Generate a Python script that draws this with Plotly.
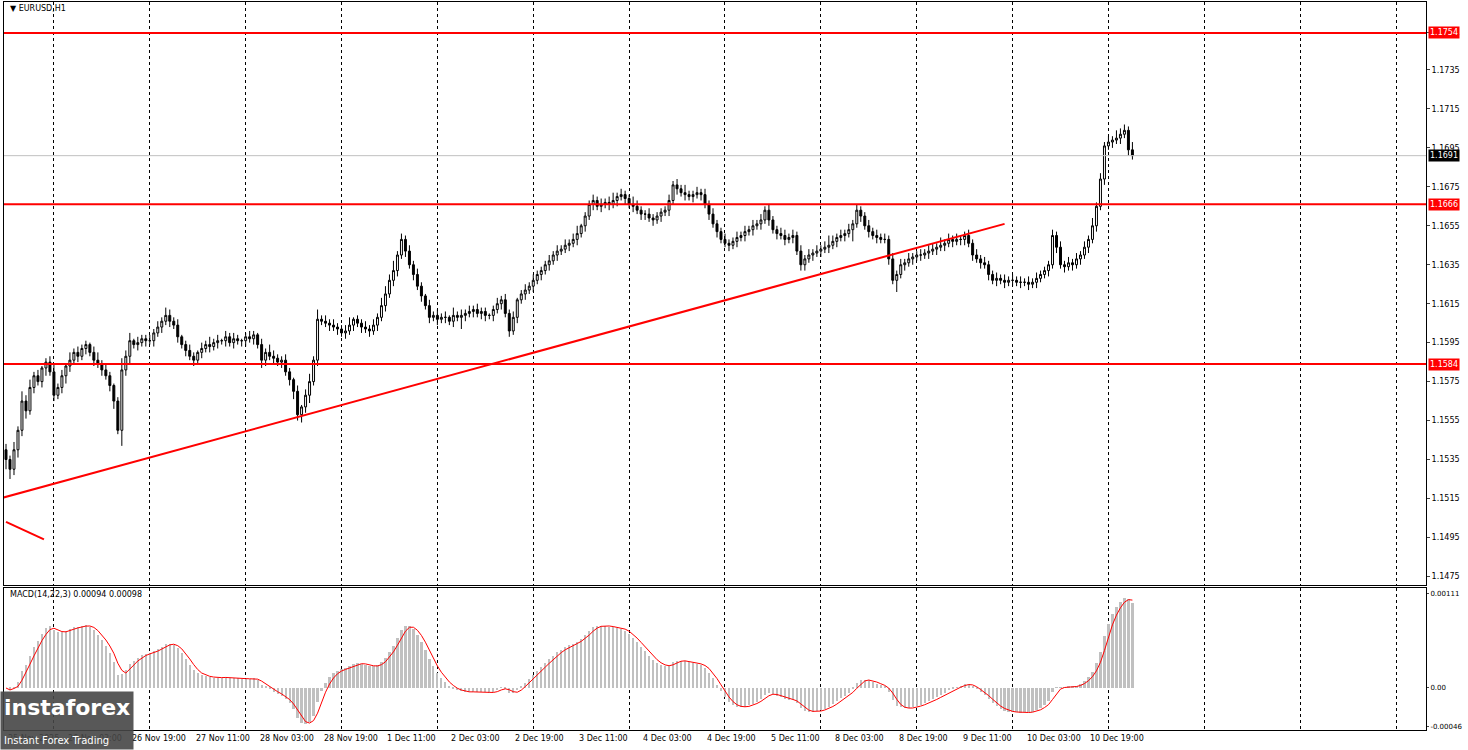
import plotly.graph_objects as go
import numpy as np

# closes in pips above 1.1400, one per H1 bar
closes = [
    135,130,140,150,165,160,172,178,175,182,185,180,168,172,178,183,186,190,188,192,
    194,190,186,184,181,178,173,165,150,181,188,196,194,195,197,196,196,200,203,206,
    209,206,204,198,194,191,188,186,190,192,194,193,195,196,196,198,195,197,196,196,
    198,197,199,194,186,190,188,187,185,186,180,176,170,158,162,168,175,186,207,206,
    205,204,203,202,200,201,204,207,205,203,202,201,204,208,214,220,227,232,240,248,
    242,235,230,224,219,214,208,209,207,208,208,206,209,208,209,210,211,212,210,211,
    209,209,212,215,217,210,201,208,217,220,222,224,227,230,232,235,237,240,242,243,
    245,246,248,251,255,260,266,268,265,266,267,266,268,270,271,269,266,265,263,261,
    261,259,258,260,262,263,268,276,274,272,271,270,271,272,271,266,261,256,252,248,
    246,245,247,249,250,252,253,255,256,258,263,258,253,251,250,248,249,250,242,235,
    238,240,241,242,243,244,245,247,249,250,251,253,256,263,260,255,252,250,249,248,
    248,238,227,230,235,236,238,239,240,240,241,242,243,244,245,246,248,247,248,248,
    250,246,240,238,236,235,230,227,228,227,226,227,227,226,226,226,225,226,228,230,
    232,235,250,244,235,234,236,235,238,240,244,248,255,265,279,296,298,299,300,302,
    304,294,291,
]
upper_wick = (
    "32425342312342314232" "21342321263413223232" "43231232132423132321"
    "23213243223213134252" "32322341223232443523" "23232132323142323232"
    "21232323123232223232" "32341223232342322432" "23222232324223232322"
    "32232323232322332323" "23232353232323223232" "32323232232332423232"
    "23232322323232323232" "22323232323242323243" "324"
)
lower_wick = (
    "55343423234232343232" "32323234283423232323" "23232323232323232323"
    "32324323232343434232" "23232323232323232332" "32323232323232632323"
    "32323232323232323232" "23232323232323232323" "32323232323232323232"
    "23232323232323232323" "32323232323262323232" "23262323232323232323"
    "32323232323232323232" "23232323232323232323" "232"
)
first_open = 140

levels = [1.1754, 1.1666, 1.1584]
last_price = 1.1691
trend_bars = [-1.5, 250]
trend_prices = [1.1515, 1.1656]
trend2_bars = [0, 9.5]
trend2_prices = [1.1503, 1.1494]

price_ticks = [1.1754, 1.1735, 1.1715, 1.1695, 1.1675, 1.1655, 1.1635, 1.1615,
               1.1595, 1.1575, 1.1555, 1.1535, 1.1515, 1.1495, 1.1475]
time_bars = [0, 15, 31, 47, 63, 79, 95, 111, 127, 143, 159, 175, 191, 207, 223, 239, 255, 271]
time_labels = ["25 Nov 2025", "26 Nov 03:00", "26 Nov 19:00", "27 Nov 11:00", "28 Nov 03:00",
               "28 Nov 19:00", "1 Dec 11:00", "2 Dec 03:00", "2 Dec 19:00", "3 Dec 11:00",
               "4 Dec 03:00", "4 Dec 19:00", "5 Dec 11:00", "8 Dec 03:00", "8 Dec 19:00",
               "9 Dec 11:00", "10 Dec 03:00", "10 Dec 19:00"]
grid_bars = [12 + 24 * k for k in range(15)]

n = len(closes)
c = 1.14 + np.array(closes) / 10000
o = np.concatenate([[1.14 + first_open / 10000], c[:-1]])
uw = np.array([int(ch) for ch in upper_wick.ljust(n, "2")[:n]]) / 10000
lw = np.array([int(ch) for ch in lower_wick.ljust(n, "2")[:n]]) / 10000
h = np.maximum(o, c) + uw
l = np.minimum(o, c) - lw
x = np.arange(n)

# MACD(14,22,3) as in MT4: EMA difference, SMA signal
def ema(v, p):
    a = 2 / (p + 1)
    out = [v[0]]
    for val in v[1:]:
        out.append(out[-1] + a * (val - out[-1]))
    return np.array(out)

macd = ema(c, 14) - ema(c, 22)
signal = np.convolve(macd, np.ones(3) / 3, mode="full")[:n]
signal[:2] = macd[:2]

fig = go.Figure()
fig.add_trace(go.Candlestick(
    x=x, open=o, high=h, low=l, close=c,
    increasing=dict(fillcolor="white", line=dict(color="black", width=1)),
    decreasing=dict(fillcolor="black", line=dict(color="black", width=1)),
    whiskerwidth=0, showlegend=False, hoverinfo="skip"))
fig.add_trace(go.Scatter(x=trend_bars, y=trend_prices, mode="lines",
                         line=dict(color="#FF0000", width=2), showlegend=False))
fig.add_trace(go.Scatter(x=trend2_bars, y=trend2_prices, mode="lines",
                         line=dict(color="#FF0000", width=2), showlegend=False))
fig.add_trace(go.Bar(x=x, y=macd, marker=dict(color="#C0C0C0", line=dict(width=0)),
                     width=0.55, xaxis="x2", yaxis="y2", showlegend=False))
fig.add_trace(go.Scatter(x=x, y=signal, mode="lines", line=dict(color="#FF0000", width=1),
                         xaxis="x2", yaxis="y2", showlegend=False))

for lv in levels:
    fig.add_hline(y=lv, line=dict(color="#FF0000", width=2))
    fig.add_annotation(x=1, y=lv, xref="paper", yref="y", xanchor="left", text=f"{lv:.4f}",
                       showarrow=False, bgcolor="#FF0000", font=dict(color="white", size=8),
                       borderpad=1, xshift=2)
fig.add_hline(y=last_price, line=dict(color="#C0C0C0", width=1))
fig.add_annotation(x=1, y=last_price, xref="paper", yref="y", xanchor="left",
                   text=f"{last_price:.4f}", showarrow=False, bgcolor="black",
                   font=dict(color="white", size=8), borderpad=1, xshift=2)

for b, t in zip(time_bars, time_labels):
    fig.add_annotation(x=b, y=0, xref="x2", yref="paper", yanchor="top", xanchor="left",
                       text=t, showarrow=False, font=dict(size=8, color="black"), yshift=-2)

fig.add_annotation(x=0.003, y=1, xref="paper", yref="paper", xanchor="left", yanchor="top",
                   text="▼ EURUSD,H1", showarrow=False, font=dict(size=8, color="black"))
fig.add_annotation(x=0.003, y=0.195, xref="paper", yref="paper", xanchor="left", yanchor="top",
                   text="MACD(14,22,3) 0.00094 0.00098", showarrow=False,
                   font=dict(size=8, color="black"))
fig.add_annotation(x=-0.003, y=-0.028, xref="paper", yref="paper", xanchor="left", yanchor="bottom",
                   text="<b>instaforex</b><br><span style='font-size:10px'>Instant Forex Trading</span>",
                   showarrow=False, bgcolor="rgba(70,70,70,0.9)", align="left",
                   font=dict(size=22, color="white"), borderpad=3)

axis_common = dict(showline=True, linecolor="black", mirror=True, zeroline=False)
fig.update_layout(
    width=1468, height=750,
    margin=dict(l=4, r=42, t=2, b=20, autoexpand=False),
    paper_bgcolor="white", plot_bgcolor="white",
    font=dict(family="DejaVu Sans", size=8, color="black"),
    bargap=0,
    xaxis=dict(domain=[0, 1], anchor="y", range=[-0.5, 355.5], rangeslider=dict(visible=False),
               tickvals=grid_bars, showticklabels=False, showgrid=True,
               gridcolor="black", griddash="dot", gridwidth=1, ticks="", **axis_common),
    yaxis=dict(domain=[0.199, 1], anchor="x", range=[1.14705, 1.17699], side="right",
               tickvals=price_ticks, tickformat=".4f", showgrid=False, ticks="outside",
               ticklen=3, tickfont=dict(size=8), **axis_common),
    xaxis2=dict(domain=[0, 1], anchor="y2", matches="x", tickvals=grid_bars,
                showticklabels=False, showgrid=True, gridcolor="black", griddash="dot",
                ticks="", **axis_common),
    yaxis2=dict(domain=[0, 0.195], anchor="x2", range=[-0.000496, 0.00118], side="right",
                tickvals=[0.00111, 0.0, -0.00046], ticktext=["0.00111", "0.00", "-0.00046"],
                showgrid=False, ticks="outside", ticklen=2, tickfont=dict(size=7), **axis_common),
)

fig.write_html("out.html", config={"displayModeBar": False},
               post_script="document.body.style.margin='0';")
